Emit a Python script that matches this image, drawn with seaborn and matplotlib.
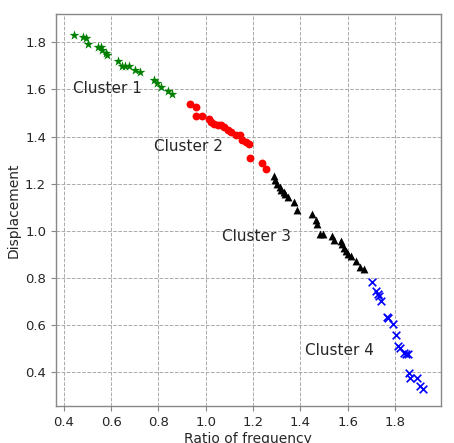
import matplotlib
matplotlib.use("Agg")
import matplotlib.pyplot as plt
import seaborn as sns
import pandas as pd

# Cluster 1 (green stars)
c1_ratio = [0.442, 0.482, 0.495, 0.501, 0.543, 0.557, 0.563, 0.580, 0.583, 0.629,
            0.646, 0.659, 0.675, 0.699, 0.723, 0.782, 0.795, 0.812, 0.840, 0.857]
c1_disp = [1.831, 1.821, 1.817, 1.793, 1.781, 1.779, 1.767, 1.753, 1.745, 1.720,
           1.700, 1.700, 1.698, 1.682, 1.675, 1.642, 1.628, 1.611, 1.593, 1.580]

# Cluster 2 (red circles)
c2_ratio = [0.934, 0.958, 0.958, 0.985, 1.013, 1.020, 1.033, 1.050, 1.064, 1.078,
            1.096, 1.107, 1.129, 1.146, 1.153, 1.170, 1.184, 1.189, 1.238, 1.256]
c2_disp = [1.537, 1.526, 1.487, 1.487, 1.473, 1.462, 1.455, 1.451, 1.447, 1.441,
           1.429, 1.419, 1.408, 1.405, 1.387, 1.375, 1.367, 1.310, 1.287, 1.260]

# Cluster 3 (black triangles)
c3_ratio = [1.290, 1.293, 1.300, 1.312, 1.320, 1.329, 1.337, 1.346, 1.375, 1.385,
            1.448, 1.465, 1.472, 1.482, 1.497, 1.533, 1.541, 1.571, 1.575, 1.584,
            1.593, 1.603, 1.613, 1.637, 1.651, 1.670]
c3_disp = [1.231, 1.214, 1.200, 1.185, 1.174, 1.164, 1.154, 1.142, 1.121, 1.086,
           1.069, 1.046, 1.029, 0.987, 0.987, 0.979, 0.961, 0.958, 0.944, 0.927,
           0.915, 0.901, 0.891, 0.873, 0.847, 0.837]

# Cluster 4 (blue crosses)
c4_ratio = [1.701, 1.719, 1.727, 1.733, 1.742, 1.766, 1.770, 1.790, 1.803, 1.814,
            1.821, 1.838, 1.847, 1.856, 1.859, 1.864, 1.892, 1.906, 1.920]
c4_disp = [0.780, 0.742, 0.731, 0.721, 0.703, 0.634, 0.629, 0.603, 0.558, 0.511,
           0.501, 0.480, 0.475, 0.478, 0.395, 0.376, 0.376, 0.340, 0.329]

cluster_names = ["Cluster 1", "Cluster 2", "Cluster 3", "Cluster 4"]
cluster_colors = ["green", "red", "black", "blue"]
cluster_markers = ["*", "o", "^", "x"]
label_pos_x = [0.44, 0.78, 1.067, 1.42]
label_pos_y = [1.605, 1.358, 0.975, 0.49]

frames = []
for name, xs, ys in zip(cluster_names,
                        [c1_ratio, c2_ratio, c3_ratio, c4_ratio],
                        [c1_disp, c2_disp, c3_disp, c4_disp]):
    frames.append(pd.DataFrame({"ratio": xs, "disp": ys, "cluster": name}))
df = pd.concat(frames, ignore_index=True)

sns.set_style("white")
plt.rcParams["font.family"] = ["DejaVu Sans"]

fig = plt.figure(figsize=(4.54, 4.43), dpi=100)
ax = fig.add_axes([0.123, 0.0835, 0.848, 0.8845])

sizes = {"*": 55, "o": 32, "^": 32, "x": 30}
for name, color, marker in zip(cluster_names, cluster_colors, cluster_markers):
    sub = df[df["cluster"] == name]
    kw = dict(linewidth=1.2) if marker == "x" else dict(linewidth=0)
    sns.scatterplot(data=sub, x="ratio", y="disp", color=color, marker=marker,
                    s=sizes[marker], ax=ax, legend=False, zorder=3, **kw)

for name, lx, ly in zip(cluster_names, label_pos_x, label_pos_y):
    ax.text(lx, ly, name, fontsize=11, va="center", ha="left", zorder=4)

ax.set_xticks([0.4, 0.6, 0.8, 1.0, 1.2, 1.4, 1.6, 1.8, 2.0])
ax.set_yticks([0.4, 0.6, 0.8, 1.0, 1.2, 1.4, 1.6, 1.8])
ax.set_xlim(0.366, 1.994)
ax.set_ylim(0.255, 1.92)
ax.grid(True, linestyle="--", color="#aaaaaa", linewidth=0.7)
ax.set_axisbelow(True)
for sp in ax.spines.values():
    sp.set_color("#888888")
    sp.set_linewidth(1.0)
ax.tick_params(axis="both", which="major", labelsize=9.5, length=3.5,
               width=0.8, color="#888888", direction="out",
               bottom=True, left=True)
ax.set_xlabel("Ratio of frequency", fontsize=10, labelpad=2)
ax.set_ylabel("Displacement", fontsize=10, labelpad=3)

fig.savefig("out.png", dpi=100)
